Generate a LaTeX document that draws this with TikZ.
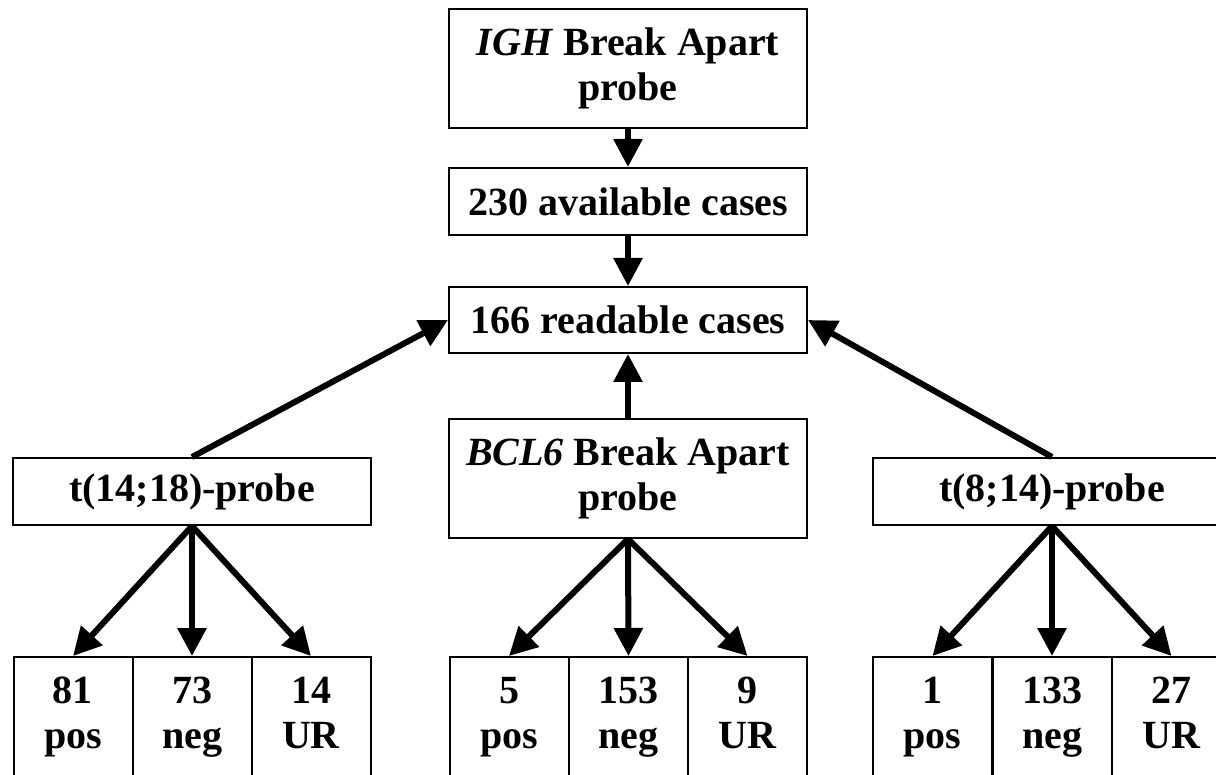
\documentclass[tikz,border=0pt]{standalone}
\usepackage{fontspec}
\setmainfont{Liberation Serif}
\usetikzlibrary{arrows.meta}
\newcommand{\res}[2]{\rule{0pt}{14pt}#1\\#2\rule[-16pt]{0pt}{16pt}}

\begin{document}
\begin{tikzpicture}[x=0.5pt,y=-0.5pt,
	box/.style={draw=black,line width=1pt,align=center,inner sep=0pt,font=\bfseries\fontsize{20}{22.5}\selectfont},
	wide/.style={box,minimum width=179pt},
	cell/.style={box,minimum width=59.5pt,minimum height=70.5pt,anchor=north},
	arr/.style={-{Triangle[length=14pt,width=14pt]},line width=3pt}]
	\clip (0,0) rectangle (1216,775);
	% probes and case counts
	\node[wide,minimum height=59.5pt] (igh)   at (628,68.5)   {\textit{IGH} Break Apart\\probe};
	\node[wide,minimum height=33.5pt] (avail) at (628,201.5)  {230 available cases};
	\node[wide,minimum height=33pt]   (read)  at (628,320)    {166 readable cases};
	\node[wide,minimum height=59.5pt] (bcl)   at (628,478.5)  {\textit{BCL6} Break Apart\\probe};
	\node[wide,minimum height=33.5pt] (tl)    at (192,491.5)  {t(14;18)-probe};
	\node[wide,minimum height=33.5pt] (tr)    at (1052,491.5) {t(8;14)-probe};
	% results
	\node[cell] (l1) at (73,656)     {\res{81}{pos}};
	\node[cell] (l2) at (192,656)    {\res{73}{neg}};
	\node[cell] (l3) at (311,656)    {\res{14}{UR}};
	\node[cell] (m1) at (509,656)    {\res{5}{pos}};
	\node[cell] (m2) at (628.5,656)  {\res{153}{neg}};
	\node[cell] (m3) at (747.5,656)  {\res{9}{UR}};
	\node[cell] (r1) at (932.5,656)  {\res{1}{pos}};
	\node[cell] (r2) at (1052,656)   {\res{133}{neg}};
	\node[cell] (r3) at (1171.5,656) {\res{27}{UR}};
	\path[arr] (igh) edge (avail);
	\path[arr] (avail) edge (read);
	\path[arr] (bcl) edge (read);
	\path[arr] (tl.north) edge (read.west);
	\path[arr] (tr.north) edge (read.east);
	\path[arr] (tl.south) edge (l1.north);
	\path[arr] (tl.south) edge (l2.north);
	\path[arr] (tl.south) edge (l3.north);
	\path[arr] (bcl.south) edge (m1.north);
	\path[arr] (bcl.south) edge (m2.north);
	\path[arr] (bcl.south) edge (m3.north);
	\path[arr] (tr.south) edge (r1.north);
	\path[arr] (tr.south) edge (r2.north);
	\path[arr] (tr.south) edge (r3.north);
\end{tikzpicture}
\end{document}
